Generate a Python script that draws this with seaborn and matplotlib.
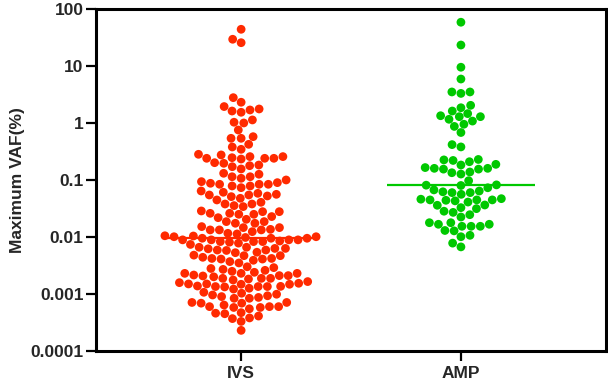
import numpy as np
import pandas as pd
import matplotlib
matplotlib.use("Agg")
import matplotlib.pyplot as plt
import seaborn as sns

categories = ["IVS", "AMP"]

ivs_vaf = [
    44, 29.4, 25.6,
    2.78,
    2.31, 1.94, 1.62, 1.69, 1.76, 1.54,
    1.03, 1.13, 1.00,
    0.753,
    0.575, 0.538, 0.538,
    0.422, 0.379, 0.345,
    0.257, 0.240, 0.257, 0.246, 0.240, 0.233, 0.240, 0.282, 0.275,
    0.196, 0.171, 0.156, 0.183, 0.178, 0.201,
    0.126, 0.114, 0.107, 0.131, 0.114,
    0.0935, 0.0785, 0.084, 0.100, 0.084, 0.0898, 0.084, 0.0785, 0.0733, 0.0875,
    0.0524, 0.0545, 0.0608, 0.0545, 0.0641, 0.0477, 0.0583, 0.056, 0.051,
    0.0355, 0.0379, 0.0406, 0.0379, 0.0341, 0.0446,
    0.026, 0.0278, 0.025, 0.026, 0.0278, 0.0228, 0.025, 0.0286,
    0.0174, 0.0186, 0.0174, 0.0186, 0.0218, 0.0204,
    0.0152, 0.0146, 0.0136, 0.0133, 0.0133, 0.0133, 0.0146, 0.0124, 0.0116, 0.0113,
    0.0105, 0.0095, 0.0101, 0.0101, 0.0104, 0.0095, 0.0095, 0.0098,
    0.0085, 0.0083, 0.0083, 0.0089, 0.0089, 0.0089, 0.0083, 0.0074, 0.0078, 0.0081, 0.0089,
    0.0066, 0.0059, 0.0066, 0.0063, 0.0062, 0.0058, 0.0063, 0.0059,
    0.0053, 0.0047, 0.0047, 0.0054, 0.0048, 0.0042,
    0.0041, 0.0037, 0.0035, 0.0041, 0.0042, 0.0044, 0.0039,
    0.0027, 0.0026, 0.0029, 0.0030, 0.0028, 0.0025, 0.0024,
    0.00215, 0.0023, 0.0023, 0.00207, 0.0021, 0.0020, 0.00183, 0.00188, 0.0021,
    0.0023, 0.00176, 0.00188, 0.00188,
    0.00148, 0.00165, 0.0015, 0.00154, 0.00135, 0.00126, 0.00136, 0.00135,
    0.00135, 0.00138, 0.00133, 0.00148, 0.00122, 0.0015, 0.00158,
    0.00087, 0.00084, 0.0009, 0.00103, 0.00096, 0.00107, 0.00099, 0.00093, 0.00084,
    0.0006, 0.00055, 0.00058, 0.0006, 0.00071, 0.00071, 0.00069, 0.0006, 0.00069,
    0.00058, 0.00064,
    0.00037, 0.00046, 0.00041, 0.00047, 0.00033, 0.00038, 0.00045,
    0.00023,
]

amp_vaf = [
    58.5, 23.3, 9.5, 5.9, 3.5, 3.3, 3.5, 1.85, 2.04, 1.62,
    1.46, 1.34, 1.29, 1.29, 1.16, 1.08, 0.95, 0.87, 0.68, 0.417,
    0.38, 0.229, 0.225, 0.22, 0.188, 0.209, 0.183, 0.155, 0.155, 0.16,
    0.165, 0.16, 0.138, 0.134, 0.127, 0.097, 0.082, 0.081, 0.080, 0.073,
    0.067, 0.064, 0.062, 0.060, 0.060, 0.056, 0.047, 0.0447, 0.0447, 0.0447,
    0.044, 0.043, 0.046, 0.041, 0.0364, 0.036, 0.0327, 0.0314, 0.0283, 0.027,
    0.0246, 0.0224, 0.0178, 0.0178, 0.0167, 0.0167, 0.0154, 0.0154, 0.0154, 0.013,
    0.0128, 0.0107, 0.0101, 0.0078, 0.0067,
]

colors = ["#FF2A00", "#00C800"]
ytick_vals = [1e-4, 1e-3, 1e-2, 1e-1, 1, 10, 100]
ytick_labels = ["0.0001", "0.001", "0.01", "0.1", "1", "10", "100"]
ylabel = "Maximum VAF(%)"

df = pd.DataFrame({
    "group": ["IVS"] * len(ivs_vaf) + ["AMP"] * len(amp_vaf),
    "vaf": ivs_vaf + amp_vaf,
})

sns.set_style("ticks")
plt.rcParams["font.family"] = ["Liberation Sans", "DejaVu Sans"]
plt.rcParams["font.weight"] = "bold"

fig = plt.figure(figsize=(6.08, 3.83), dpi=100)
ax = fig.add_axes([0.158, 0.0836, 0.8387, 0.893])

sns.swarmplot(data=df, x="group", y="vaf", hue="group", order=categories,
              hue_order=categories, palette=colors, size=6.3, linewidth=0,
              log_scale=True, legend=False, ax=ax, zorder=3)

for i, (vals, c) in enumerate(zip([ivs_vaf, amp_vaf], colors)):
    med = np.median(vals)
    ax.hlines(med, i - 0.335, i + 0.335, color=c, lw=1.6, zorder=4)

ax.set_ylim(1e-4, 100)
ax.set_xlim(-0.66, 1.66)
ax.set_yticks(ytick_vals)
ax.set_yticklabels(ytick_labels)
ax.yaxis.set_minor_locator(matplotlib.ticker.NullLocator())
ax.set_xlabel("")
ax.set_ylabel(ylabel, fontsize=12.5, fontweight="bold", labelpad=4)

for s in ax.spines.values():
    s.set_visible(True)
    s.set_linewidth(2.2)
    s.set_color("black")

ax.tick_params(axis="y", length=7, width=1.6, pad=2, labelsize=12.5, color="black")
ax.tick_params(axis="x", length=7, width=1.6, pad=4, labelsize=12.5, color="black")
for lab in ax.get_xticklabels() + ax.get_yticklabels():
    lab.set_fontweight("bold")

fig.savefig("out.png", dpi=100)
